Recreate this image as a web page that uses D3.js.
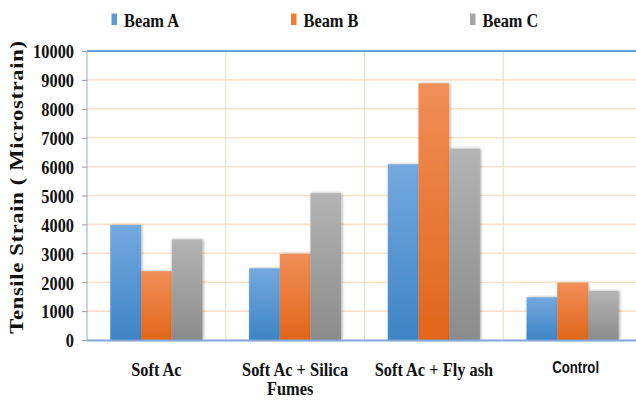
<!DOCTYPE html>
<html>
<head>
<meta charset="utf-8">
<script src="https://cdn.jsdelivr.net/npm/d3@7"></script>
<style>
  html, body { margin: 0; padding: 0; background: #fff; overflow: hidden; }
  svg { display: block; }
</style>
</head>
<body>
<svg id="chart" width="636" height="402"></svg>
<script>
// Tensile strain per mix, for three beams
const categories = [["Soft Ac"], ["Soft Ac + Silica", "Fumes"], ["Soft Ac + Fly ash"], ["Control"]];
const categoryKeys = ["Soft Ac", "Soft Ac + Silica Fumes", "Soft Ac + Fly ash", "Control"];
const seriesNames = ["Beam A", "Beam B", "Beam C"];
const beamA = [3980, 2480, 6080, 1480];
const beamB = [2380, 2980, 8880, 1980];
const beamC = [3480, 5080, 6620, 1700];
const yTicks = [0, 1000, 2000, 3000, 4000, 5000, 6000, 7000, 8000, 9000, 10000];

const seriesValues = [beamA, beamB, beamC];
const colors = {
  "Beam A": { top: "#74a9df", bottom: "#3d84c6", flat: "#5b9bd5" },
  "Beam B": { top: "#f18e57", bottom: "#e1661a", flat: "#ed7d31" },
  "Beam C": { top: "#b4b4b4", bottom: "#8b8b8b", flat: "#a5a5a5" }
};

const svg = d3.select("#chart");
const plotLeft = 87, plotRight = 642, plotTop = 51, plotBottom = 340;
const SQ = 0.84; // horizontal text compression

const defs = svg.append("defs");
seriesNames.forEach((s, i) => {
  const g = defs.append("linearGradient")
    .attr("id", "grad" + i).attr("x1", 0).attr("y1", 0).attr("x2", 0).attr("y2", 1);
  g.append("stop").attr("offset", "0%").attr("stop-color", colors[s].top);
  g.append("stop").attr("offset", "100%").attr("stop-color", colors[s].bottom);
});
const shadow = defs.append("filter").attr("id", "shadow")
  .attr("x", "-30%").attr("y", "-10%").attr("width", "160%").attr("height", "120%");
shadow.append("feDropShadow").attr("dx", 1).attr("dy", 0).attr("stdDeviation", 1.4)
  .attr("flood-color", "#000").attr("flood-opacity", 0.35);

const x = d3.scaleBand().domain(categoryKeys).range([plotLeft, plotRight]).paddingInner(0).paddingOuter(0);
const xs = d3.scaleBand().domain(seriesNames).range([0, x.bandwidth()]).paddingInner(0).paddingOuter(0.76);
const y = d3.scaleLinear().domain([0, 10000]).range([plotBottom, plotTop]);

// horizontal gridlines
svg.append("g").selectAll("line").data(yTicks.filter(t => t > 0 && t < 10000)).join("line")
  .attr("x1", plotLeft).attr("x2", plotRight)
  .attr("y1", d => y(d)).attr("y2", d => y(d))
  .attr("stroke", "#fbe1cb").attr("stroke-width", 1.6);

// vertical category separators
svg.append("g").selectAll("line").data(categoryKeys.slice(1)).join("line")
  .attr("x1", d => x(d)).attr("x2", d => x(d))
  .attr("y1", plotTop).attr("y2", plotBottom)
  .attr("stroke", "#d6e9c9").attr("stroke-width", 1.2);

// bars
const groups = svg.append("g").selectAll("g").data(categoryKeys).join("g")
  .attr("transform", d => `translate(${x(d)},0)`);
groups.selectAll("rect")
  .data((d, ci) => seriesNames.map((s, si) => ({ s, si, v: seriesValues[si][ci] })))
  .join("rect")
  .attr("x", d => xs(d.s))
  .attr("width", xs.bandwidth())
  .attr("y", d => y(d.v))
  .attr("height", d => y(0) - y(d.v))
  .attr("fill", d => `url(#grad${d.si})`)
  .attr("filter", "url(#shadow)");

// frame: top border, left axis, baseline
svg.append("line").attr("x1", plotLeft).attr("x2", plotRight).attr("y1", plotTop).attr("y2", plotTop)
  .attr("stroke", "#6b9fd8").attr("stroke-width", 2);
svg.append("line").attr("x1", plotLeft).attr("x2", plotLeft).attr("y1", plotTop).attr("y2", plotBottom)
  .attr("stroke", "#8eaed6").attr("stroke-width", 1);
svg.append("line").attr("x1", plotLeft).attr("x2", plotRight).attr("y1", plotBottom + 0.5).attr("y2", plotBottom + 0.5)
  .attr("stroke", "#82a7d6").attr("stroke-width", 2);

// y axis ticks and labels
const yAxis = d3.axisLeft(y).tickValues(yTicks).tickSize(5).tickPadding(0).tickFormat(d3.format("d"));
const ya = svg.append("g").attr("transform", `translate(${plotLeft},0)`).call(yAxis);
ya.select(".domain").remove();
ya.selectAll(".tick line").attr("stroke", "#9a9a9a");
ya.selectAll(".tick text").remove();
ya.selectAll(".tick").append("text")
  .attr("transform", `translate(-13,6.8) scale(${SQ},1)`)
  .attr("text-anchor", "end")
  .attr("fill", "#111")
  .style("font-family", "'Liberation Serif', 'Times New Roman', serif")
  .style("font-weight", "bold").style("font-size", "19.5px")
  .text(d => d);

// y title
svg.append("g").attr("transform", `translate(23,187) scale(${SQ},1) rotate(-90)`)
  .append("text")
  .attr("text-anchor", "middle")
  .attr("fill", "#111")
  .style("font-family", "'Liberation Serif', 'Times New Roman', serif")
  .style("font-weight", "bold").style("font-size", "22.5px")
  .style("letter-spacing", "0.7px")
  .text("Tensile Strain ( Microstrain)");

// category labels
categories.forEach((lines, i) => {
  const key = categoryKeys[i];
  const cx = x(key) + x.bandwidth() / 2;
  const isSans = key === "Control";
  const g = svg.append("g").attr("transform", `translate(${cx + (isSans ? 3 : 0)},${isSans ? 372.5 : 375.5}) scale(${isSans ? 0.8 : SQ},1)`);
  g.selectAll("text").data(lines).join("text")
    .attr("x", (d, li) => li === 1 ? -5 / SQ : 0)
    .attr("y", (d, li) => li * 20)
    .attr("text-anchor", "middle")
    .attr("fill", "#111")
    .style("font-family", isSans ? "'Liberation Sans', Arial, sans-serif" : "'Liberation Serif', 'Times New Roman', serif")
    .style("font-weight", "bold")
    .style("font-size", isSans ? "16.5px" : "19.5px")
    .text(d => d);
});

// legend
const legendX = [111.5, 291, 470];
const lg = svg.append("g").selectAll("g").data(seriesNames).join("g")
  .attr("transform", (d, i) => `translate(${legendX[i]},0)`);
lg.append("rect").attr("x", 0).attr("y", 13.5).attr("width", 5.5).attr("height", 11.5)
  .attr("fill", d => colors[d].flat);
lg.append("text")
  .attr("transform", `translate(12.5,26.5) scale(${SQ},1)`)
  .attr("fill", "#111")
  .style("font-family", "'Liberation Serif', 'Times New Roman', serif")
  .style("font-weight", "bold").style("font-size", "19.5px")
  .text(d => d);
</script>
</body>
</html>
